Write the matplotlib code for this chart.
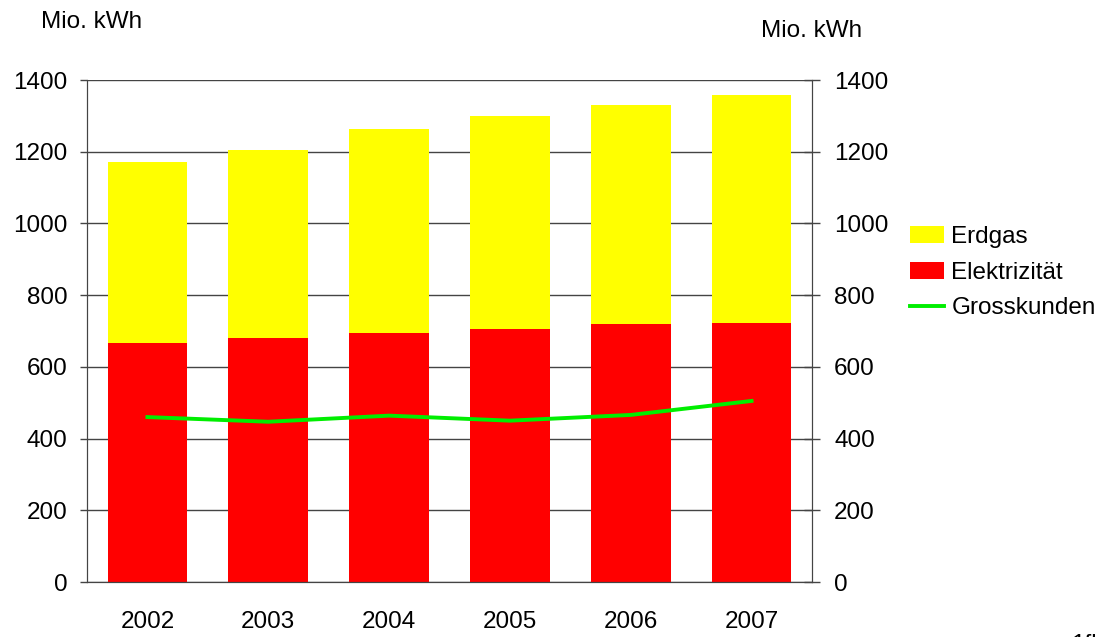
import numpy as np
from matplotlib import pyplot as plt
from matplotlib.patches import Patch
from matplotlib.lines import Line2D

plt.rcParams['font.family'] = ['Liberation Sans', 'DejaVu Sans']

years = ["2002", "2003", "2004", "2005", "2006", "2007"]
elektrizitaet = [666, 680, 694, 705, 719, 722]
erdgas = [505, 525, 569, 595, 612, 637]
grosskunden = [460, 447, 464, 450, 466, 505]

fig = plt.figure(figsize=(11.1, 6.37), dpi=100)
ax = fig.add_axes([0.0784, 0.0863, 0.6531, 0.7881])

x = np.arange(len(years)) + 0.5
ax.bar(x, elektrizitaet, width=0.66, color="#ff0000", zorder=2)
ax.bar(x, erdgas, width=0.66, bottom=elektrizitaet, color="#ffff00", zorder=2)

ax.set_xlim(0, len(years))
ax.set_ylim(0, 1400)
ax.set_yticks(range(0, 1401, 200))
ax.set_xticks(x)
ax.set_xticklabels(years)
ax.grid(axis="y", color="#444444", linewidth=1, zorder=1)
ax.set_axisbelow(True)
ax.tick_params(axis="x", length=0, pad=21, labelsize=17.5)
ax.tick_params(axis="y", direction="out", length=5, width=1, pad=9, labelsize=17.5, color="#444444")
for s in ["left", "right", "bottom"]:
    ax.spines[s].set_color("#444444")
ax.spines["top"].set_visible(False)

ax2 = ax.twinx()
ax2.plot(x, grosskunden, color="#00ee00", linewidth=2.8, zorder=3)
ax2.set_ylim(0, 1400)
ax2.set_yticks(range(0, 1401, 200))
ax2.tick_params(axis="y", direction="inout", length=12, width=1, pad=10, labelsize=17.5, color="#444444")
for s in ["left", "right", "bottom"]:
    ax2.spines[s].set_color("#444444")
ax2.spines["top"].set_visible(False)

fig.text(0.037, 0.965, "Mio. kWh", fontsize=17.5, va="center")
fig.text(0.686, 0.952, "Mio. kWh", fontsize=17.5, va="center")

handles = [Patch(facecolor="#ffff00", label="Erdgas"),
           Patch(facecolor="#ff0000", label="Elektrizität"),
           Line2D([0], [0], color="#00ee00", linewidth=2.8, label="Grosskunden")]
fig.legend(handles=handles, loc="upper left", bbox_to_anchor=(0.8198, 0.645),
           frameon=False, fontsize=17.5, handlelength=1.4, handleheight=0.72,
           handletextpad=0.3, labelspacing=0.55, borderaxespad=0, borderpad=0)

fig.text(0.965, -0.022, "1fb", fontsize=17.5)

plt.savefig("out.png")
